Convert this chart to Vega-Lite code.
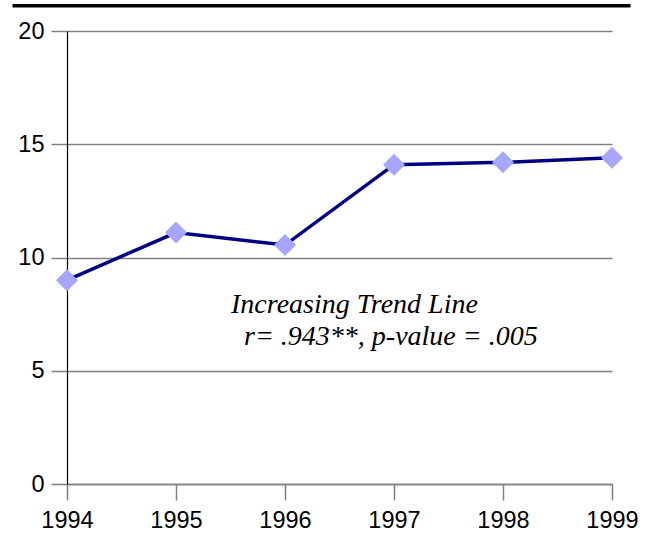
{
  "$schema": "https://vega.github.io/schema/vega-lite/v6.json",
  "width": 545,
  "height": 453,
  "autosize": {"type": "none"},
  "padding": {"left": 67, "top": 31, "right": 40, "bottom": 51},
  "background": "white",
  "config": {"view": {"stroke": null}},
  "datasets": {
    "series": [
      {"year": 1994, "value": 9.0},
      {"year": 1995, "value": 11.1},
      {"year": 1996, "value": 10.55},
      {"year": 1997, "value": 14.1},
      {"year": 1998, "value": 14.2},
      {"year": 1999, "value": 14.4}
    ],
    "notes": [
      {"x": 1995.505, "y": 7.55, "label": "Increasing Trend Line"},
      {"x": 1995.624, "y": 6.15, "label": "r= .943**, p-value = .005"}
    ],
    "topline": [
      {"x": 1993.5, "x2": 1999.17, "y": 21.12}
    ]
  },
  "layer": [
    {
      "data": {"name": "series"},
      "mark": {"type": "line", "color": "#000080", "strokeWidth": 3.5},
      "encoding": {
        "x": {
          "field": "year", "type": "quantitative",
          "scale": {"domain": [1994, 1999], "nice": false, "zero": false},
          "axis": {
            "title": null, "values": [1994, 1995, 1996, 1997, 1998, 1999],
            "format": "d", "grid": false,
            "domainColor": "#808080", "domainWidth": 1.5,
            "tickColor": "#808080", "tickSize": 16, "tickWidth": 1.5,
            "labelFont": "Liberation Sans", "labelFontSize": 23.5, "labelColor": "#000000",
            "labelPadding": 8, "labelFlush": false
          }
        },
        "y": {
          "field": "value", "type": "quantitative",
          "scale": {"domain": [0, 20], "nice": false},
          "axis": {
            "title": null, "values": [0, 5, 10, 15, 20],
            "grid": true, "gridColor": "#808080", "gridWidth": 1.5,
            "domainColor": "#000000", "domainWidth": 1.2,
            "tickColor": "#808080", "tickSize": 16, "tickWidth": 1.5,
            "labelFont": "Liberation Sans", "labelFontSize": 23.5, "labelColor": "#000000",
            "labelPadding": 7
          }
        }
      }
    },
    {
      "data": {"name": "series"},
      "mark": {"type": "point", "shape": "diamond", "filled": true, "color": "#a6a6ff", "opacity": 1, "size": 484},
      "encoding": {
        "x": {"field": "year", "type": "quantitative"},
        "y": {"field": "value", "type": "quantitative"}
      }
    },
    {
      "data": {"name": "notes"},
      "mark": {"type": "text", "align": "left", "baseline": "alphabetic", "font": "Liberation Serif", "fontStyle": "italic", "fontSize": 28, "color": "#000000"},
      "encoding": {
        "x": {"field": "x", "type": "quantitative"},
        "y": {"field": "y", "type": "quantitative"},
        "text": {"field": "label"}
      }
    },
    {
      "data": {"name": "topline"},
      "mark": {"type": "rule", "color": "#000000", "strokeWidth": 3.5, "clip": false},
      "encoding": {
        "x": {"field": "x", "type": "quantitative"},
        "x2": {"field": "x2"},
        "y": {"field": "y", "type": "quantitative"}
      }
    }
  ]
}
